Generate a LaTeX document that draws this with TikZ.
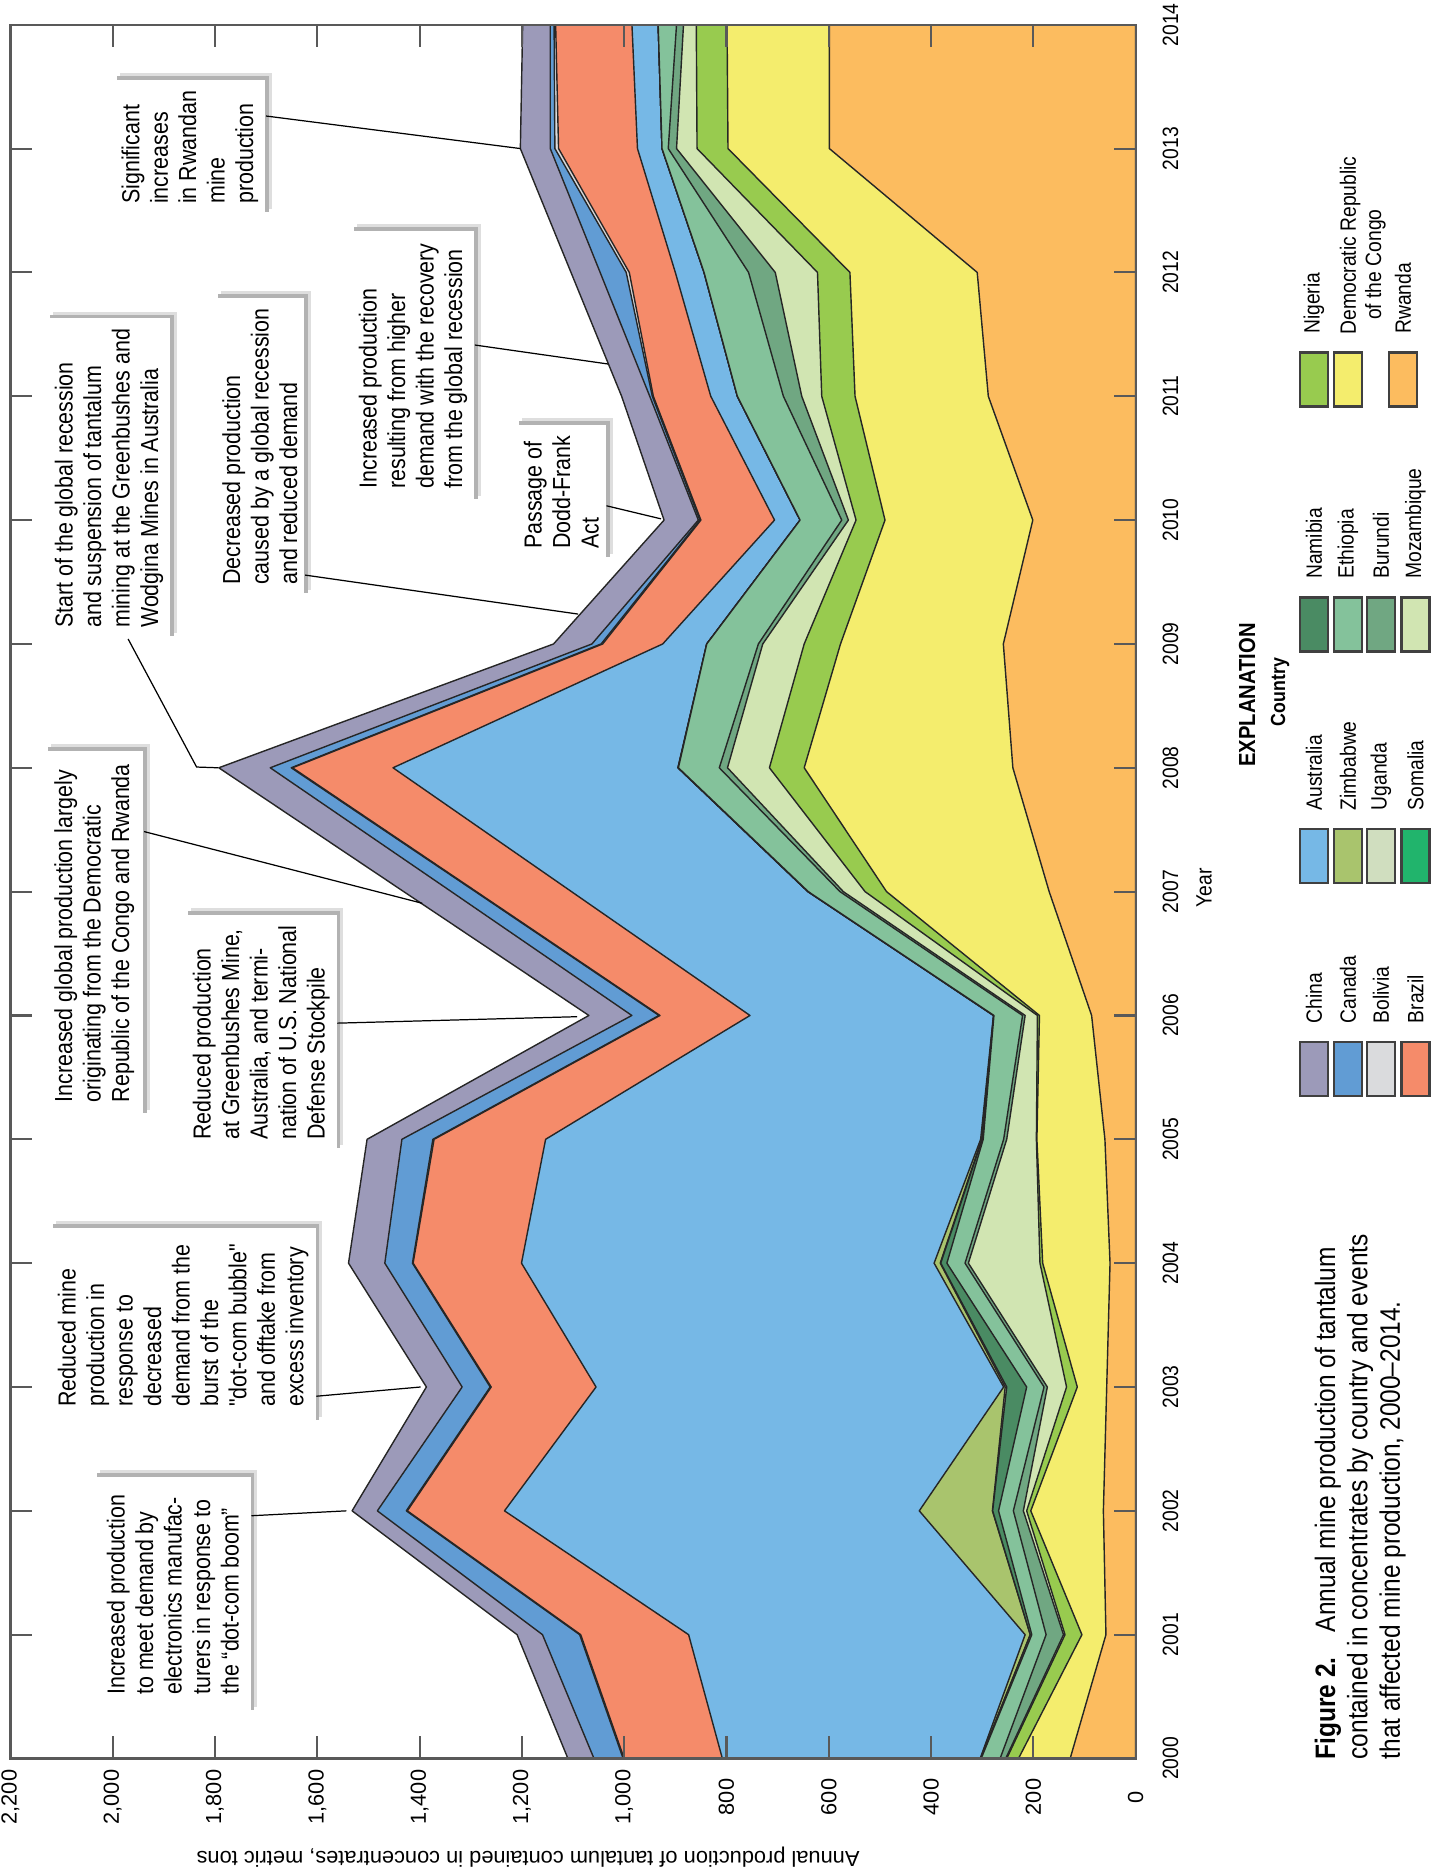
\documentclass[tikz,border=0pt]{standalone}
\usepackage{fontspec}
\setmainfont{Liberation Sans}[FakeStretch=0.87]
\newfontfamily\tickfont{Liberation Sans}
\usetikzlibrary{calc,backgrounds}

\definecolor{china}{HTML}{9C9AB9}
\definecolor{canada}{HTML}{619CD4}
\definecolor{bolivia}{HTML}{DADBDD}
\definecolor{brazil}{HTML}{F58B6A}
\definecolor{australia}{HTML}{76B8E6}
\definecolor{zimbabwe}{HTML}{A9C46D}
\definecolor{uganda}{HTML}{D0DEBF}
\definecolor{somalia}{HTML}{21B46C}
\definecolor{namibia}{HTML}{4A8B63}
\definecolor{ethiopia}{HTML}{84C29B}
\definecolor{burundi}{HTML}{70A782}
\definecolor{mozambique}{HTML}{D1E5B2}
\definecolor{nigeria}{HTML}{98CB4F}
\definecolor{drc}{HTML}{F4ED6D}
\definecolor{rwanda}{HTML}{FCBC5F}

\tikzset{
  band/.style={draw=black!85, line width=0.4pt, line join=round},
  frame/.style={draw=black!65, line width=0.6pt},
  lead/.style={draw=black, line width=0.35pt},
  note/.style={rotate=90, fill=white, align=left, inner xsep=3pt, inner ysep=2pt,
    font=\fontsize{7}{8.1}\selectfont},
  tickfnt/.style={font=\tickfont\fontsize{6.2}{7}\selectfont},
  val/.style={tickfnt, rotate=90},
  yr/.style={rotate=90, font=\fontsize{6.3}{7}\selectfont},
  swatch/.style={draw=black!75, line width=0.6pt, minimum width=0.28cm, minimum height=0.54cm, inner sep=0},
  key/.style={rotate=90, anchor=west, inner sep=0, font=\fontsize{6.3}{7.2}\selectfont},
  captext/.style={rotate=90, align=left, inner sep=0, font=\fontsize{8}{9.2}\selectfont}
}

% one stacked band: filled from zero up to its cumulative top
\newcommand\bandfill[2]{%
  \filldraw[band, fill=#1] (0,0) \foreach \v [count=\i from 0] in {#2} { -- (\i,\v) } -- (14,0) -- cycle;}

\begin{document}
\begin{tikzpicture}[x=0.01cm, y=-0.01cm]
\useasboundingbox (0,0) rectangle (1446,1872);

% stacked production, year along x, tons along y
\begin{scope}[shift={(1135.6,1758.5)}, x={(0cm,1.2377cm)}, y={(-0.005115cm,0cm)}]
  \bandfill{china}{1110,1209.4,1532,1386.7,1539,1502.7,1069,1431,1792.6,1138,922,1005,1104,1203,1198.5}
  \bandfill{canada}{1059,1159.7,1482.6,1316.8,1468,1434.6,985,1338,1692,1063,855,950,1047,1144.5,1144.5}
  \bandfill{bolivia}{1002,1087,1426,1262,1414,1374,932,1291,1651,1045,852,945,996,1135.5,1137}
  \bandfill{brazil}{1000,1085,1424,1260,1412.7,1371.7,930,1289,1648.5,1042,850,943,990,1128.3,1134}
  \bandfill{australia}{808,874,1234,1055,1200.8,1153.6,754,1103,1452,924.6,706,830.7,900,974,984.8}
  \bandfill{zimbabwe}{304,216,423,258,394,303,278,641,895,838.5,656,778.7,843.8,926,933.5}
  \bandfill{uganda}{303,206,280,255,382,301,277.5,640.5,894.5,838.5,656,778.7,843.8,926,933.5}
  \bandfill{namibia}{303,206,279.5,252,381,300,277.5,640.5,894.5,838.5,656,778.7,843.8,926,933.5}
  \bandfill{ethiopia}{302,203,268,213,369,298,277,640,894,838.5,656,778.7,843.8,926,933.5}
  \bandfill{burundi}{265,175,239,179,333.5,258,221,578,814,737.6,574.6,688.7,756.8,913.8,897.6}
  \bandfill{mozambique}{254,141,219.5,172.6,327,252,216,571.5,798,729,561.6,652.8,704.6,897.6,884}
  \bandfill{nigeria}{252,138,213,135,187,194,192,529,716,648,546.6,613.7,622,857.5,859}
  \bandfill{drc}{229,105,205,114,181.7,193,188,487,648,577,490,548.6,558.6,797,798.8}
  \bandfill{rwanda}{128,58,63,56.5,50,60,86,169,240,258.6,201,288,309.7,598.8,598.8}

  % frame and ticks
  \draw[frame] (0,0) rectangle (14,2200);
  \foreach \v in {200,400,...,2000} {
    \draw[frame] (0,\v) -- ++(0.178,0);
    \draw[frame] (14,\v) -- ++(-0.178,0);
  }
  \foreach \k in {1,...,13} {
    \draw[frame] (\k,0) -- ++(0,43);
    \draw[frame] (\k,2200) -- ++(0,-43);
  }

  % axis labels
  \foreach \v/\t in {0/0,200/200,400/400,600/600,800/800,1000/{1,000},1200/{1,200},1400/{1,400},1600/{1,600},1800/{1,800},2000/{2,000},2200/{2,200}}
    \node[val] (v\v) at (-0.311,\v) {\t};
  \foreach \k [evaluate=\k as \yr using int(2000+\k)] in {0,...,14}
    \node[yr] (y\k) at (\k,-68) {\yr};
  \node[yr] (ylab) at (7.03,-134) {Year};
  \node[tickfnt, rotate=180] (vlab) at (-0.794,1188) {Annual production of tantalum contained in concentrates, metric tons};

  % where the call-outs touch the chart
  \coordinate (e1) at (2,1543);
  \coordinate (e2) at (3,1398);
  \coordinate (e3) at (6.906,1395);
  \coordinate (e4) at (5.99,1092);
  \coordinate (b5) at (8.006,1836);
  \coordinate (e5) at (8,1794);
  \coordinate (e6) at (9.241,1090);
  \coordinate (e7) at (11.26,1031);
  \coordinate (e8) at (10.01,928);
  \coordinate (e9) at (13,1203);
\end{scope}

% call-outs
\node[note, anchor=north west, minimum width=2.35cm, minimum height=1.56cm] (n1) at (94,1713)
  {Increased production\\to meet demand by\\electronics manufac-\\turers in response to\\the ``dot-com boom''};
\node[note, anchor=north west, minimum width=1.94cm, minimum height=2.57cm] (n2) at (50,1423)
  {Reduced mine\\production in\\response to\\decreased\\demand from the\\burst of the\\{\addfontfeatures{Ligatures=TeXOff}"dot-com bubble"}\\and offtake from\\excess inventory};
\node[note, anchor=north west, minimum width=3.64cm, minimum height=0.98cm] (n3) at (44.6,1116)
  {Increased global production largely\\originating from the Democratic\\Republic of the Congo and Rwanda};
\node[note, anchor=north west, minimum width=2.24cm, minimum height=1.41cm] (n4) at (185,1151)
  {Reduced production\\at Greenbushes Mine,\\Australia, and termi-\\nation of U.S. National\\Defense Stockpile};
\node[note, anchor=north west, minimum width=3.16cm, minimum height=1.19cm] (n5) at (47,639)
  {Start of the global recession\\and suspension of tantalum\\mining at the Greenbushes and\\Wodgina Mines in Australia};
\node[note, anchor=north west, minimum width=2.93cm, minimum height=0.89cm] (n6) at (214.6,596)
  {Decreased production\\caused by a global recession\\and reduced demand};
\node[note, anchor=north west, minimum width=2.70cm, minimum height=1.19cm] (n7) at (351,501.7)
  {Increased production\\resulting from higher\\demand with the recovery\\from the global recession};
\node[note, anchor=north west, minimum width=1.28cm, minimum height=0.86cm] (n8) at (516,560)
  {Passage of\\Dodd-Frank\\Act};
\node[note, anchor=north west, minimum width=1.31cm, minimum height=1.40cm] (n9) at (113.7,215)
  {Significant\\increases\\in Rwandan\\mine\\production};

% soft shadows up and to the right of each call-out
\begin{scope}[on background layer]
  \foreach \k in {1,...,9} {
    \fill[black!13] ($(n\k.north west)+(6,-6)$) rectangle ($(n\k.south east)+(6,-6)$);
    \fill[black!30] ($(n\k.north west)+(3,-3)$) rectangle ($(n\k.south east)+(3,-3)$);
  }
\end{scope}

\draw[lead] ($(n1.south east)!0.166!(n1.south west)$) -- (e1);
\draw[lead] ($(n2.south east)!0.863!(n2.south west)$) -- (e2);
\draw[lead] ($(n3.south east)!0.222!(n3.south west)$) -- (e3);
\draw[lead] ($(n4.south east)!0.46!(n4.south west)$) -- (e4);
\draw[lead] ($(n5.north west)!0.655!(n5.south west)$) -- (b5) -- (e5);
\draw[lead] ($(n6.south east)!0.93!(n6.south west)$) -- (e6);
\draw[lead] ($(n7.south east)!0.423!(n7.south west)$) -- (e7);
\draw[lead] ($(n8.south east)!0.6!(n8.south west)$) -- (e8);
\draw[lead] ($(n9.south east)!0.27!(n9.south west)$) -- (e9);

% explanation
\node[rotate=90, font=\bfseries\fontsize{6.6}{7.5}\selectfont] (expl) at (1247,695) {EXPLANATION};
\node[rotate=90, font=\bfseries\fontsize{5.8}{7}\selectfont] (ctry) at (1280,692) {Country};
\foreach \c/\t/\px/\py in {china/China/1314/1069, canada/Canada/1348/1069, bolivia/Bolivia/1381/1069, brazil/Brazil/1415.5/1069,
    australia/Australia/1314/856, zimbabwe/Zimbabwe/1348/856, uganda/Uganda/1381/856, somalia/Somalia/1415.5/856,
    namibia/Namibia/1314/624.5, ethiopia/Ethiopia/1348/624.5, burundi/Burundi/1381/624.5, mozambique/Mozambique/1415.5/624.5,
    nigeria/Nigeria/1314/379.5, rwanda/Rwanda/1403/379.5} {
  \node[swatch, fill=\c] (k\c) at (\px,\py) {};
  \node[key] (t\c) at ($(k\c.north)+(0,-17)$) {\t};
}
\node[swatch, fill=drc] (kdrc) at (1348,379.5) {};
\node[key, anchor=north west, align=left] (tdrc) at (1339,335) {Democratic Republic\\\hspace*{0.65em}of the Congo};

% caption
\node[captext, anchor=north west] (caption) at (1314,1760)
  {{\bfseries Figure 2.}\hspace{0.9em}Annual mine production of tantalum\\contained in concentrates by country and events\\that affected mine production, 2000--2014.};
\end{tikzpicture}
\end{document}
